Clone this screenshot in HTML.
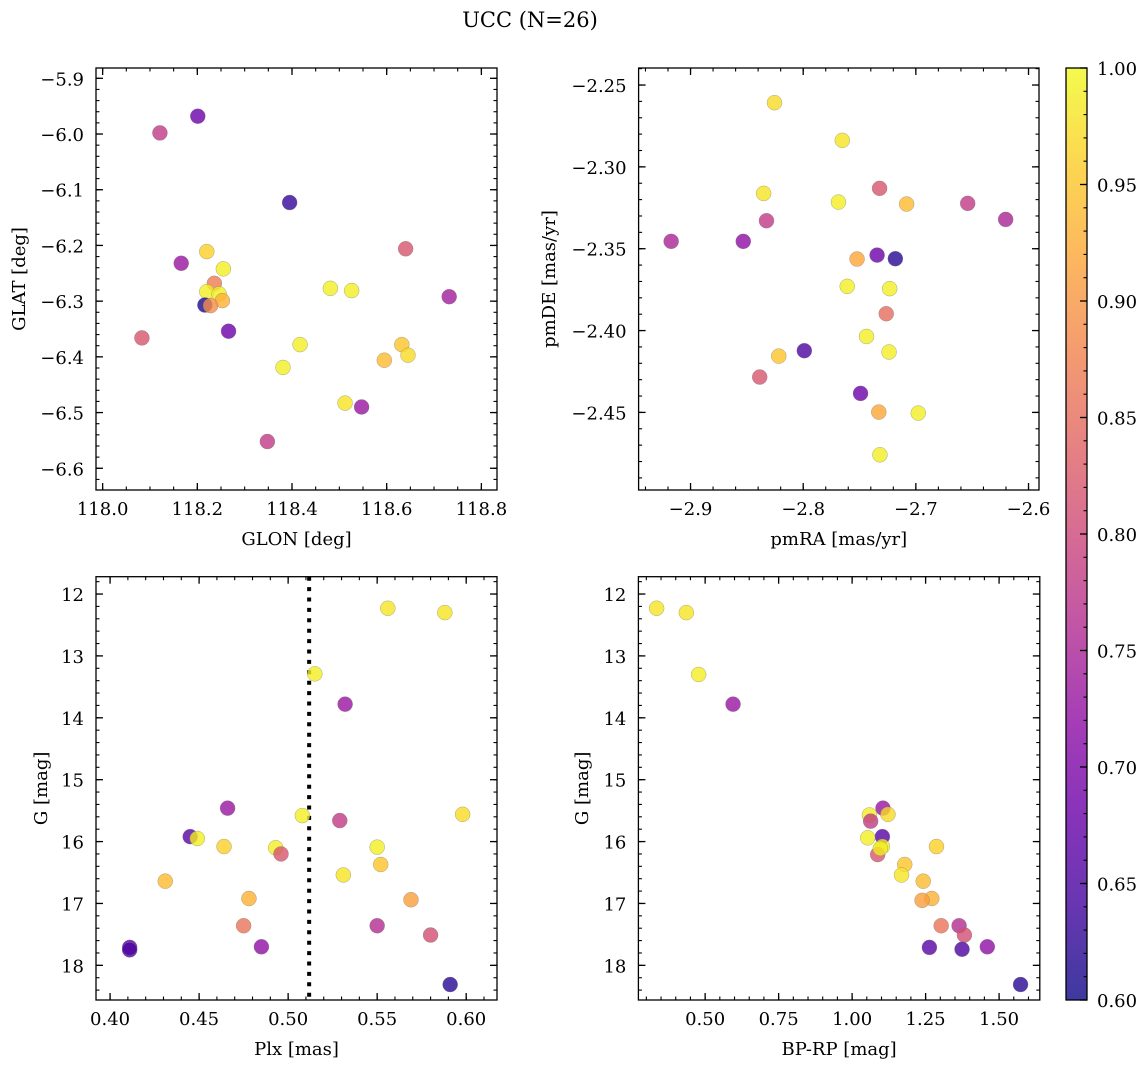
<!DOCTYPE html>
<html><head><meta charset="utf-8"><style>
body{margin:0;background:#fff}
svg text{font-family:"DejaVu Serif","Liberation Serif",serif;fill:#000}
</style></head><body>
<svg id="fig" width="1148" height="1067" xmlns="http://www.w3.org/2000/svg">
<text x="530" y="27" font-size="21" text-anchor="middle">UCC (N=26)</text>
</svg>
<script>
// Panel 1: GLON vs GLAT
const glon=[118.201,118.121,118.395,118.640,118.220,118.166,118.255,118.236,118.481,118.526,118.220,118.246,118.732,118.253,118.216,118.228,118.266,118.083,118.417,118.632,118.645,118.595,118.381,118.512,118.547,118.348];
const glat=[-5.968,-5.998,-6.123,-6.206,-6.211,-6.232,-6.242,-6.268,-6.277,-6.281,-6.283,-6.287,-6.292,-6.299,-6.307,-6.308,-6.354,-6.366,-6.378,-6.378,-6.397,-6.406,-6.419,-6.483,-6.490,-6.552];
const prob1=[0.68,0.78,0.63,0.82,0.96,0.73,0.99,0.87,0.99,0.99,0.99,0.99,0.74,0.93,0.61,0.89,0.68,0.82,0.99,0.95,0.97,0.94,0.99,0.98,0.73,0.78];
// Panel 2: pmRA vs pmDE
const pmra=[-2.8255,-2.7653,-2.8351,-2.7687,-2.7322,-2.7082,-2.6540,-2.6203,-2.8326,-2.9172,-2.8532,-2.7344,-2.7182,-2.7522,-2.7609,-2.7232,-2.7263,-2.7438,-2.7990,-2.7238,-2.8217,-2.8386,-2.7491,-2.7329,-2.6979,-2.7319];
const pmde=[-2.2608,-2.2838,-2.3162,-2.3215,-2.3131,-2.3227,-2.3223,-2.3321,-2.3329,-2.3455,-2.3455,-2.3539,-2.3561,-2.3563,-2.3730,-2.3744,-2.3897,-2.4036,-2.4123,-2.4131,-2.4156,-2.4284,-2.4384,-2.4498,-2.4504,-2.4759];
const prob2=[0.97,0.98,0.98,0.99,0.82,0.94,0.78,0.75,0.78,0.75,0.72,0.68,0.62,0.92,0.99,0.99,0.85,0.99,0.65,0.99,0.95,0.82,0.68,0.92,0.99,0.99];
// Panel 3: Plx vs G
const plx=[0.556,0.588,0.515,0.532,0.466,0.508,0.598,0.529,0.445,0.449,0.464,0.493,0.496,0.550,0.552,0.531,0.431,0.478,0.569,0.475,0.550,0.580,0.485,0.411,0.411,0.591];
const gmag3=[12.23,12.30,13.29,13.78,15.46,15.58,15.56,15.66,15.92,15.95,16.08,16.10,16.20,16.09,16.37,16.54,16.64,16.92,16.94,17.36,17.36,17.51,17.70,17.71,17.75,18.31];
const prob3=[0.98,0.98,0.99,0.73,0.73,0.99,0.97,0.78,0.66,0.99,0.96,0.99,0.82,0.99,0.95,0.98,0.94,0.93,0.91,0.86,0.76,0.81,0.72,0.66,0.65,0.62];
const plxLine=[0.5118];
// Panel 4: BP-RP vs G
const bprp=[0.335,0.436,0.478,0.595,1.105,1.059,1.122,1.063,1.103,1.053,1.287,1.103,1.087,1.096,1.179,1.168,1.242,1.271,1.238,1.303,1.364,1.382,1.460,1.263,1.374,1.573];
const gmag4=[12.23,12.30,13.30,13.78,15.46,15.57,15.56,15.67,15.92,15.94,16.08,16.08,16.21,16.11,16.37,16.54,16.64,16.92,16.95,17.36,17.36,17.51,17.70,17.71,17.74,18.31];
const prob4=[0.98,0.98,0.99,0.73,0.73,0.99,0.97,0.78,0.66,0.99,0.96,0.99,0.82,0.99,0.95,0.98,0.94,0.93,0.91,0.86,0.76,0.81,0.72,0.66,0.65,0.62];
// ticks
const ticks1x=[118.0,118.2,118.4,118.6,118.8], ticks1xLab=["118.0","118.2","118.4","118.6","118.8"];
const ticks1y=[-5.9,-6.0,-6.1,-6.2,-6.3,-6.4,-6.5,-6.6], ticks1yLab=["−5.9","−6.0","−6.1","−6.2","−6.3","−6.4","−6.5","−6.6"];
const ticks2x=[-2.9,-2.8,-2.7,-2.6], ticks2xLab=["−2.9","−2.8","−2.7","−2.6"];
const ticks2y=[-2.25,-2.30,-2.35,-2.40,-2.45], ticks2yLab=["−2.25","−2.30","−2.35","−2.40","−2.45"];
const ticks3x=[0.40,0.45,0.50,0.55,0.60], ticks3xLab=["0.40","0.45","0.50","0.55","0.60"];
const ticksGy=[12,13,14,15,16,17,18], ticksGyLab=["12","13","14","15","16","17","18"];
const ticks4x=[0.50,0.75,1.00,1.25,1.50], ticks4xLab=["0.50","0.75","1.00","1.25","1.50"];
const cbTicks=[0.60,0.65,0.70,0.75,0.80,0.85,0.90,0.95,1.00], cbLab=["0.60","0.65","0.70","0.75","0.80","0.85","0.90","0.95","1.00"];

const NS="http://www.w3.org/2000/svg";
const svg=document.getElementById('fig');
const FS=18;
function mk(tag,attrs,parent){const e=document.createElementNS(NS,tag);for(const k in attrs)e.setAttribute(k,attrs[k]);(parent||svg).appendChild(e);return e;}
const plasma=[[13,8,135],[65,4,157],[106,0,168],[143,13,164],[177,42,144],[204,71,120],[225,100,98],[242,132,75],[252,166,54],[252,206,37],[240,249,33]];
function cmap(v){let t=(v-0.6)/0.4;t=Math.max(0,Math.min(1,t));const f=t*10,i=Math.min(9,Math.floor(f)),r=f-i;const a=plasma[i],b=plasma[i+1];return `rgb(${Math.round(a[0]+(b[0]-a[0])*r)},${Math.round(a[1]+(b[1]-a[1])*r)},${Math.round(a[2]+(b[2]-a[2])*r)})`;}

function panel(o){
  const g=mk('g',{});
  
  
  const L=o.L,R=o.R,T=o.T,B=o.B;
  const sx=v=>L+(v-o.x0)/(o.x1-o.x0)*(R-L);
  const sy=v=>B-(v-o.y0)/(o.y1-o.y0)*(B-T);
  const mx0=Math.ceil(Math.min(o.x0,o.x1)/o.mx-1e-6), mx1=Math.floor(Math.max(o.x0,o.x1)/o.mx+1e-6);
  for(let k=mx0;k<=mx1;k++){const x=sx(k*o.mx);mk('line',{x1:x,x2:x,y1:B,y2:B-3.5,stroke:'#000','stroke-width':1.1},g);mk('line',{x1:x,x2:x,y1:T,y2:T+3.5,stroke:'#000','stroke-width':1.1},g);}
  const my0=Math.ceil(Math.min(o.y0,o.y1)/o.my-1e-6), my1=Math.floor(Math.max(o.y0,o.y1)/o.my+1e-6);
  for(let k=my0;k<=my1;k++){const y=sy(k*o.my);mk('line',{x1:L,x2:L+3.5,y1:y,y2:y,stroke:'#000','stroke-width':1.1},g);mk('line',{x1:R,x2:R-3.5,y1:y,y2:y,stroke:'#000','stroke-width':1.1},g);}
  o.tx.forEach((v,i)=>{const x=sx(v);
    mk('line',{x1:x,x2:x,y1:B,y2:B-7,stroke:'#000','stroke-width':1.3},g);mk('line',{x1:x,x2:x,y1:T,y2:T+7,stroke:'#000','stroke-width':1.3},g);
    const t=mk('text',{x:x,y:B+25,'font-size':FS,'text-anchor':'middle'},g);t.textContent=o.txl[i];
    
    });
  o.ty.forEach((v,i)=>{const y=sy(v);
    mk('line',{x1:L,x2:L+7,y1:y,y2:y,stroke:'#000','stroke-width':1.3},g);mk('line',{x1:R,x2:R-7,y1:y,y2:y,stroke:'#000','stroke-width':1.3},g);
    const t=mk('text',{x:L-12,y:y+7,'font-size':FS,'text-anchor':'end'},g);t.textContent=o.tyl[i];
    
    });
  if(o.vline!==undefined){const x=sx(o.vline);
    const ln=mk('line',{x1:x,x2:x,y1:T,y2:B,stroke:'#000','stroke-width':4,'stroke-dasharray':'4 6.4'},g);
    
    }
  o.xs.forEach((v,i)=>{
    const c=mk('circle',{cx:sx(v),cy:sy(o.ys[i]),r:7.5,fill:cmap(o.ps[i]),'fill-opacity':0.8,stroke:'#777','stroke-opacity':0.6,'stroke-width':0.5},g);
    
    });
  mk('rect',{x:L,y:T,width:R-L,height:B-T,fill:'none',stroke:'#000','stroke-width':1.3},g);
  const xl=mk('text',{x:(L+R)/2,y:B+55,'font-size':FS,'text-anchor':'middle'},g);xl.textContent=o.xlab;
  
  
  const yl=mk('text',{x:0,y:0,'font-size':FS,'text-anchor':'middle',transform:`translate(${o.ylx},${(T+B)/2}) rotate(-90)`},g);yl.textContent=o.ylab;
  
  
}
panel({name:'glon-glat-panel',L:96,R:497,T:68,B:490,x0:117.986,x1:118.833,y0:-6.639,y1:-5.8815,mx:0.05,my:0.02,tx:ticks1x,txl:ticks1xLab,ty:ticks1y,tyl:ticks1yLab,xs:glon,ys:glat,ps:prob1,xlab:'GLON [deg]',ylab:'GLAT [deg]',ylx:25});
panel({name:'pm-panel',L:638.6,R:1039,T:68,B:490,x0:-2.9461,x1:-2.5907,y0:-2.4974,y1:-2.2396,mx:0.02,my:0.01,tx:ticks2x,txl:ticks2xLab,ty:ticks2y,tyl:ticks2yLab,xs:pmra,ys:pmde,ps:prob2,xlab:'pmRA [mas/yr]',ylab:'pmDE [mas/yr]',ylx:555});
panel({name:'plx-g-panel',L:96,R:497,T:576.7,B:1000,x0:0.3921,x1:0.6173,y0:18.56,y1:11.72,mx:0.01,my:0.2,tx:ticks3x,txl:ticks3xLab,ty:ticksGy,tyl:ticksGyLab,xs:plx,ys:gmag3,ps:prob3,xlab:'Plx [mas]',ylab:'G [mag]',ylx:47,vline:plxLine[0]});
panel({name:'cmd-panel',L:638.4,R:1039.8,T:576.7,B:1000,x0:0.273,x1:1.6385,y0:18.56,y1:11.72,mx:0.05,my:0.2,tx:ticks4x,txl:ticks4xLab,ty:ticksGy,tyl:ticksGyLab,xs:bprp,ys:gmag4,ps:prob4,xlab:'BP-RP [mag]',ylab:'G [mag]',ylx:588});

// colorbar
const cb=mk('g',{});


const CL=1066,CR=1087,CT=68,CB=1000;
const defs=mk('defs',{},cb);const lg=mk('linearGradient',{id:'cbg',x1:0,y1:1,x2:0,y2:0},defs);
for(let i=0;i<=20;i++){mk('stop',{offset:i/20,'stop-color':cmap(0.6+0.4*i/20)},lg);}
mk('rect',{x:CL,y:CT,width:CR-CL,height:CB-CT,fill:'url(#cbg)','fill-opacity':0.8},cb);
const cy=v=>CB-(v-0.6)/0.4*(CB-CT);
for(let k=60;k<=100;k++){const y=cy(k/100);mk('line',{x1:CR,x2:CR-3.5,y1:y,y2:y,stroke:'#000','stroke-width':1.1},cb);}
cbTicks.forEach((v,i)=>{const y=cy(v);mk('line',{x1:CR,x2:CR-7,y1:y,y2:y,stroke:'#000','stroke-width':1.3},cb);
  const t=mk('text',{x:CR+10,y:y+7,'font-size':FS},cb);t.textContent=cbLab[i];
  
  });
mk('rect',{x:CL,y:CT,width:CR-CL,height:CB-CT,fill:'none',stroke:'#000','stroke-width':1.3},cb);
</script>
</body></html>
